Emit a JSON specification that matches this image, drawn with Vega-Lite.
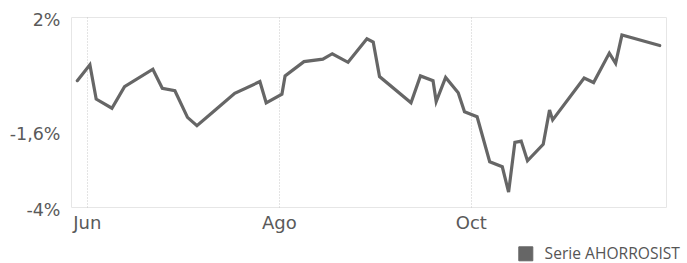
{
  "$schema": "https://vega.github.io/schema/vega-lite/v6.json",
  "width": 595,
  "height": 190,
  "autosize": {"type": "none"},
  "padding": {"left": 71, "top": 17, "right": 21, "bottom": 56},
  "background": "white",
  "config": {
    "view": {"stroke": "#e6e6e6", "strokeWidth": 1},
    "font": "DejaVu Sans"
  },
  "data": {
    "values": [
      {"fecha": "2023-05-29", "valor": -0.01, "serie": "Serie AHORROSIST"},
      {"fecha": "2023-06-02", "valor": 0.49, "serie": "Serie AHORROSIST"},
      {"fecha": "2023-06-04", "valor": -0.59, "serie": "Serie AHORROSIST"},
      {"fecha": "2023-06-09", "valor": -0.88, "serie": "Serie AHORROSIST"},
      {"fecha": "2023-06-13", "valor": -0.20, "serie": "Serie AHORROSIST"},
      {"fecha": "2023-06-22", "valor": 0.35, "serie": "Serie AHORROSIST"},
      {"fecha": "2023-06-25", "valor": -0.25, "serie": "Serie AHORROSIST"},
      {"fecha": "2023-06-29", "valor": -0.33, "serie": "Serie AHORROSIST"},
      {"fecha": "2023-07-03", "valor": -1.17, "serie": "Serie AHORROSIST"},
      {"fecha": "2023-07-06", "valor": -1.43, "serie": "Serie AHORROSIST"},
      {"fecha": "2023-07-11", "valor": -1.01, "serie": "Serie AHORROSIST"},
      {"fecha": "2023-07-18", "valor": -0.41, "serie": "Serie AHORROSIST"},
      {"fecha": "2023-07-26", "valor": -0.04, "serie": "Serie AHORROSIST"},
      {"fecha": "2023-07-28", "valor": -0.71, "serie": "Serie AHORROSIST"},
      {"fecha": "2023-08-02", "valor": -0.44, "serie": "Serie AHORROSIST"},
      {"fecha": "2023-08-03", "valor": 0.14, "serie": "Serie AHORROSIST"},
      {"fecha": "2023-08-09", "valor": 0.59, "serie": "Serie AHORROSIST"},
      {"fecha": "2023-08-15", "valor": 0.67, "serie": "Serie AHORROSIST"},
      {"fecha": "2023-08-18", "valor": 0.84, "serie": "Serie AHORROSIST"},
      {"fecha": "2023-08-23", "valor": 0.57, "serie": "Serie AHORROSIST"},
      {"fecha": "2023-08-29", "valor": 1.31, "serie": "Serie AHORROSIST"},
      {"fecha": "2023-08-31", "valor": 1.21, "serie": "Serie AHORROSIST"},
      {"fecha": "2023-09-02", "valor": 0.12, "serie": "Serie AHORROSIST"},
      {"fecha": "2023-09-12", "valor": -0.71, "serie": "Serie AHORROSIST"},
      {"fecha": "2023-09-15", "valor": 0.14, "serie": "Serie AHORROSIST"},
      {"fecha": "2023-09-19", "valor": -0.01, "serie": "Serie AHORROSIST"},
      {"fecha": "2023-09-20", "valor": -0.67, "serie": "Serie AHORROSIST"},
      {"fecha": "2023-09-23", "valor": 0.09, "serie": "Serie AHORROSIST"},
      {"fecha": "2023-09-27", "valor": -0.39, "serie": "Serie AHORROSIST"},
      {"fecha": "2023-09-29", "valor": -0.99, "serie": "Serie AHORROSIST"},
      {"fecha": "2023-10-03", "valor": -1.15, "serie": "Serie AHORROSIST"},
      {"fecha": "2023-10-07", "valor": -2.57, "serie": "Serie AHORROSIST"},
      {"fecha": "2023-10-11", "valor": -2.73, "serie": "Serie AHORROSIST"},
      {"fecha": "2023-10-13", "valor": -3.53, "serie": "Serie AHORROSIST"},
      {"fecha": "2023-10-15", "valor": -1.96, "serie": "Serie AHORROSIST"},
      {"fecha": "2023-10-17", "valor": -1.92, "serie": "Serie AHORROSIST"},
      {"fecha": "2023-10-19", "valor": -2.54, "serie": "Serie AHORROSIST"},
      {"fecha": "2023-10-24", "valor": -2.02, "serie": "Serie AHORROSIST"},
      {"fecha": "2023-10-26", "valor": -0.94, "serie": "Serie AHORROSIST"},
      {"fecha": "2023-10-27", "valor": -1.25, "serie": "Serie AHORROSIST"},
      {"fecha": "2023-11-06", "valor": 0.07, "serie": "Serie AHORROSIST"},
      {"fecha": "2023-11-09", "valor": -0.07, "serie": "Serie AHORROSIST"},
      {"fecha": "2023-11-14", "valor": 0.86, "serie": "Serie AHORROSIST"},
      {"fecha": "2023-11-16", "valor": 0.54, "serie": "Serie AHORROSIST"},
      {"fecha": "2023-11-18", "valor": 1.43, "serie": "Serie AHORROSIST"},
      {"fecha": "2023-11-30", "valor": 1.10, "serie": "Serie AHORROSIST"}
    ]
  },
  "mark": {"type": "line", "strokeWidth": 3.2, "strokeJoin": "miter", "strokeCap": "round"},
  "encoding": {
    "x": {
      "field": "fecha",
      "type": "temporal",
      "scale": {
        "type": "utc",
        "domain": [
          {"year": 2023, "month": 5, "date": 27, "utc": true},
          {"year": 2023, "month": 12, "date": 2, "utc": true}
        ],
        "nice": false
      },
      "axis": {
        "title": null,
        "values": [
          {"year": 2023, "month": 6, "date": 1, "utc": true},
          {"year": 2023, "month": 8, "date": 1, "utc": true},
          {"year": 2023, "month": 10, "date": 1, "utc": true}
        ],
        "labelExpr": "['Ene','Feb','Mar','Abr','May','Jun','Jul','Ago','Sep','Oct','Nov','Dic'][utcmonth(datum.value)]",
        "domain": false,
        "ticks": false,
        "grid": true,
        "gridColor": "#c8c8c8",
        "gridDash": [1, 2],
        "gridWidth": 1,
        "labelFont": "DejaVu Sans",
        "labelFontSize": 18,
        "labelColor": "#5a5a5a",
        "labelPadding": 7,
        "labelFlush": false
      }
    },
    "y": {
      "field": "valor",
      "type": "quantitative",
      "scale": {"domain": [-4, 2], "nice": false, "zero": false},
      "axis": {
        "title": null,
        "values": [-4, -1.6, 2],
        "labelExpr": "replace(datum.value + '', '.', ',') + '%'",
        "domain": false,
        "ticks": false,
        "grid": false,
        "labelFont": "DejaVu Sans",
        "labelFontSize": 17.5,
        "labelColor": "#5a5a5a",
        "labelPadding": 11,
        "labelOffset": 3,
        "labelFlush": false
      }
    },
    "color": {
      "field": "serie",
      "type": "nominal",
      "scale": {"range": ["#666666"]},
      "legend": {
        "title": null,
        "orient": "none",
        "legendX": 447,
        "legendY": 229,
        "symbolType": "square",
        "symbolSize": 196,
        "symbolFillColor": "#666666",
        "symbolStrokeColor": "#8a8a8a",
        "symbolStrokeWidth": 1,
        "labelFont": "Open Sans",
        "labelFontSize": 15.6,
        "labelColor": "#555555",
        "labelOffset": 11,
        "labelLimit": 300
      }
    }
  }
}
